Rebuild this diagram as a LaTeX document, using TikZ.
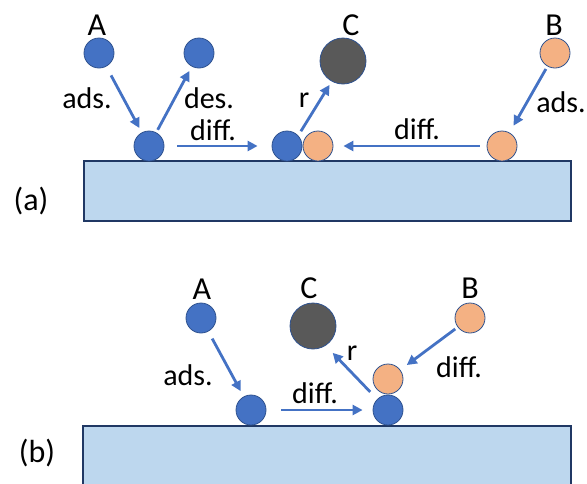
\documentclass[tikz,border=0pt]{standalone}
\usepackage{fontspec}
\setmainfont{Carlito}
\usetikzlibrary{arrows.meta}
\definecolor{ablue}{HTML}{4472C4}
\definecolor{aedge}{HTML}{2F528F}
\definecolor{borange}{HTML}{F4B183}
\definecolor{cgray}{HTML}{595959}
\definecolor{surf}{HTML}{BDD7EE}
\definecolor{surfedge}{HTML}{203864}

\begin{document}
\begin{tikzpicture}[x=1pt,y=-1pt,
  atom/.style={circle,draw=aedge,line width=0.8pt,minimum size=30pt,inner sep=0pt},
  molA/.style={atom,fill=ablue},
  molB/.style={atom,fill=borange},
  molC/.style={atom,fill=cgray,minimum size=46pt},
  proc/.style={draw=ablue,line width=2.8pt,-{Triangle[length=10pt,width=10pt]}},
  species/.style={font=\fontsize{32}{32}\selectfont,anchor=base,inner sep=0pt},
  lbl/.style={font=\fontsize{30}{30}\selectfont,anchor=base,inner sep=0pt},
  panel/.style={font=\fontsize{32}{32}\selectfont,anchor=base,inner sep=0pt},
  substrate/.style={fill=surf,draw=surfedge,line width=1.5pt}]
\useasboundingbox (0,0) rectangle (587,483);
\clip (0,0) rectangle (587,483);

% ---------- (a) desorption possible ----------
\draw[substrate] (84,161) rectangle (571,221);
\node[panel] (pa) at (31,210) {(a)};

\node[molA] (aA)  at (99,53)  {};
\node[molA] (aD)  at (199,53) {};
\node[molA] (aAs) at (149,146) {};
\node[molA] (aAr) at (287,146) {};
\node[molB] (aBr) at (318,146) {};
\node[molC] (aC)  at (343,61) {};
\node[molB] (aB)  at (555,53) {};
\node[molB] (aBs) at (502,146) {};

\node[species] (laA) at (97,35)  {A};
\node[species] (laC) at (351,35) {C};
\node[species] (laB) at (554,35) {B};

\draw[proc,shorten <=10pt,shorten >=5pt] (aA) -- (aAs);
\draw[proc,shorten <=3pt,shorten >=5pt] (aAs) -- (aD);
\draw[proc,shorten <=13pt,shorten >=14pt] (aAs) -- (aAr);
\draw[proc,shorten <=5pt,shorten >=4pt] (aAr.43) -- (aC.241);
\draw[proc,shorten <=7pt,shorten >=10pt] (aBs) -- (aBr);
\draw[proc,shorten <=3pt,shorten >=8pt] (aB) -- (aBs);

\node[lbl] (taads) at (87,108)  {ads.};
\node[lbl] (tades) at (209,108) {des.};
\node[lbl] (tar)   at (304,107) {r};
\node[lbl] (tad1)  at (213,140) {diff.};
\node[lbl] (tad2)  at (417,139) {diff.};
\node[lbl] (tabads) at (561,112) {ads.};

% ---------- (b) reaction on top of adsorbed A ----------
\draw[substrate] (83,426) rectangle (571,500);
\node[panel] (pb) at (37,462) {(b)};

\node[molA] (bA)  at (201,318) {};
\node[molA] (bAs) at (251,410) {};
\node[molA] (bAr) at (388,410) {};
\node[molB] (bBr) at (388,379) {};
\node[molC] (bC)  at (313,326) {};
\node[molB] (bB)  at (470,318) {};

\node[species] (lbA) at (202,299) {A};
\node[species] (lbC) at (309,298) {C};
\node[species] (lbB) at (470,298) {B};

\draw[proc,shorten <=8pt,shorten >=6pt] (bA) -- (bAs);
\draw[proc,shorten <=15pt,shorten >=10pt] (bAs) -- (bAr);
\draw[proc,shorten <=10pt,shorten >=10pt] (bAr.135) -- (bC.303);
\draw[proc,shorten <=3pt,shorten >=8pt] (bB) -- (bBr);

\node[lbl] (tbads) at (188,385) {ads.};
\node[lbl] (tbd1)  at (315,403) {diff.};
\node[lbl] (tbr)   at (352,360) {r};
\node[lbl] (tbd2)  at (459,377) {diff.};
\end{tikzpicture}
\end{document}
